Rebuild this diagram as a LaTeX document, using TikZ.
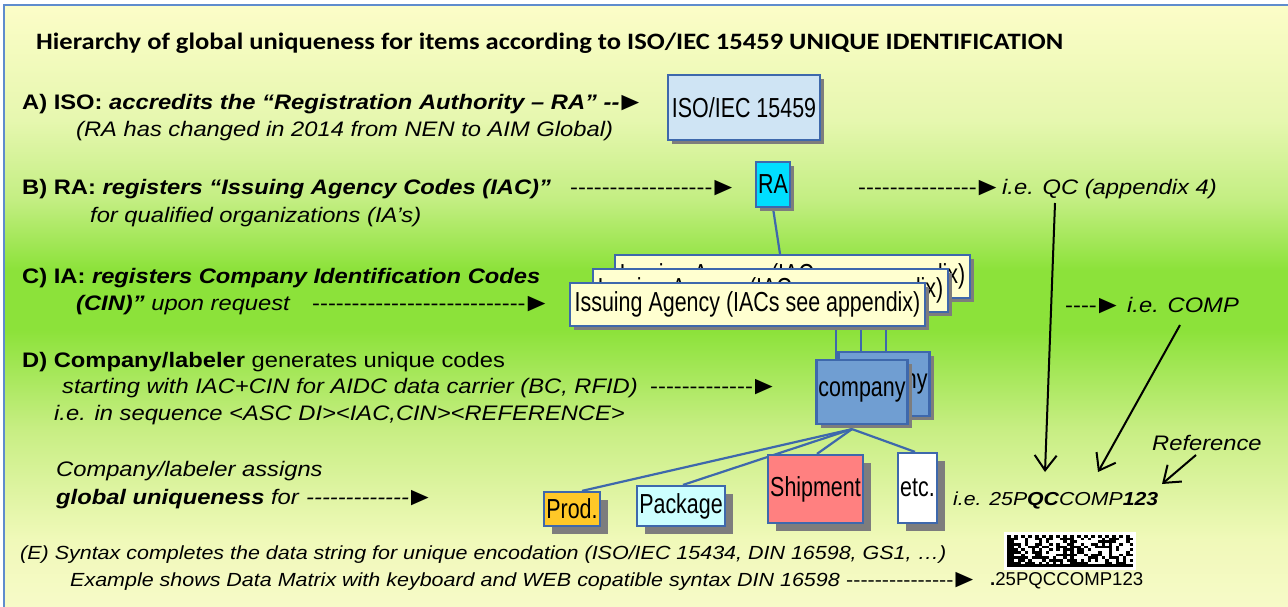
\documentclass[tikz,border=0pt]{standalone}
\usepackage{fontspec}
\usetikzlibrary{shadows,arrows.meta,calc,backgrounds}
\newfontfamily\af{Liberation Sans}[FakeStretch=1.13,Ligatures=TeXOff]
\newfontfamily\boxf{Liberation Sans}[FakeStretch=0.78,Ligatures=TeXOff]
\newfontfamily\plainf{Liberation Sans}[Ligatures=TeXOff]
\newfontfamily\titf{Carlito}[FakeStretch=1.13,Ligatures=TeXOff]
\newcommand\mainf{\af\fontsize{21}{25}\selectfont}
\newcommand\smallf{\af\fontsize{19}{23}\selectfont}
\newcommand\tri{\kern-3.5pt\raisebox{-1pt}{\fontsize{26}{25}\selectfont ►}}
\definecolor{bord}{RGB}{62,104,172}
\definecolor{shadowc}{RGB}{125,125,125}
\definecolor{framec}{RGB}{95,140,205}
\definecolor{isoc}{RGB}{207,228,244}
\definecolor{rac}{RGB}{0,222,255}
\definecolor{iac}{RGB}{255,255,208}
\definecolor{compc}{RGB}{112,158,210}
\definecolor{prodc}{RGB}{255,200,40}
\definecolor{pkgc}{RGB}{204,255,255}
\definecolor{shipc}{RGB}{255,128,128}
\definecolor{bgYa}{RGB}{252,253,200}
\definecolor{bgYb}{RGB}{230,247,175}
\definecolor{bgYc}{RGB}{195,238,130}
\definecolor{bgG}{RGB}{140,226,58}
\definecolor{bgYd}{RGB}{200,238,132}
\definecolor{bgYe}{RGB}{240,249,185}
\definecolor{bgYf}{RGB}{247,250,200}
\pgfdeclareverticalshading{bgsh}{100bp}{color(0bp)=(bgYf); color(25bp)=(bgYf); color(30.6bp)=(bgYe); color(39.7bp)=(bgYd); color(48bp)=(bgG); color(53bp)=(bgG); color(58.8bp)=(bgYc); color(65.4bp)=(bgYb); color(75bp)=(bgYa); color(100bp)=(bgYa)}
\tikzset{
  txt/.style={anchor=base west, inner sep=0pt, font=\mainf},
  stxt/.style={anchor=base west, inner sep=0pt, font=\smallf},
  box/.style={draw=bord, line width=2.2pt, inner sep=0pt, font=\boxf\fontsize{27.5}{30}\selectfont,
    drop shadow={shadow xshift=#1, shadow yshift=-#1, fill=shadowc, opacity=1}},
  box/.default=4pt,
  conn/.style={draw=bord, line width=2.2pt},
  blk/.style={line width=2pt, -{Straight Barb[length=15pt, width=22pt, line width=2pt]}}
}
\begin{document}
\begin{tikzpicture}[x=1pt,y=-1pt]
\useasboundingbox (0,0) rectangle (1288,607);
\begin{pgfonlayer}{background}
\fill[white] (0,0) rectangle (1288,607);
\shade[shading=bgsh] (4,5) rectangle (1288,607);
\draw[framec, line width=1.5pt] (4,5) rectangle (1300,620);
\end{pgfonlayer}

% title
\node[anchor=base west, inner sep=0pt, font=\titf\bfseries\fontsize{23.5}{27}\selectfont] (title) at (36,50)
  {Hierarchy of global uniqueness for items according to ISO/IEC 15459 UNIQUE IDENTIFICATION};

% left texts
\node[txt] (a1) at (22,110) {\bfseries A) ISO: \itshape accredits the “Registration Authority – RA” --\tri};
\node[txt] (a2) at (76,137) {\itshape (RA has changed in 2014 from NEN to AIM Global)};
\node[txt] (b1) at (22,194) {\bfseries B) RA: \itshape registers “Issuing Agency Codes (IAC)”};
\node[txt] (b1d) at (570,194) {------------------\tri};
\node[txt] (b2) at (90,222) {\itshape for qualified organizations (IA’s)};
\node[txt] (bqd) at (858,194) {---------------\tri};
\node[txt] (bq) at (1002,194) {\itshape i.e. QC (appendix 4)};
\node[txt] (c1) at (22,283) {\bfseries C) IA: \itshape registers Company Identification Codes};
\node[txt] (c2) at (76,310) {\bfseries\itshape (CIN)”\mdseries\ upon request};
\node[txt] (c2d) at (312,310) {---------------------------\tri};
\node[txt] (cqd) at (1065,312) {----\tri};
\node[txt] (cq) at (1127,312) {\itshape i.e. COMP};
\node[txt] (d1) at (22,367) {\bfseries D) Company/labeler\mdseries\ generates unique codes};
\node[txt] (d2) at (62,393) {\itshape starting with IAC+CIN for AIDC data carrier (BC, RFID)};
\node[txt] (d2d) at (650,393) {-------------\tri};
\node[txt] (d3) at (54,420) {\itshape i.e. in sequence <ASC DI><IAC,CIN><REFERENCE>};
\node[txt] (e1) at (56,476) {\itshape Company/labeler assigns};
\node[txt] (e2) at (56,504) {\bfseries\itshape global uniqueness\mdseries\ for};
\node[txt] (e2d) at (306,504) {\itshape -------------\tri};
\node[stxt] (f1) at (20,559) {\itshape (E) Syntax completes the data string for unique encodation (ISO/IEC 15434, DIN 16598, GS1, …)};
\node[stxt] (f2) at (70,586) {\itshape Example shows Data Matrix with keyboard and WEB copatible syntax DIN 16598};
\node[stxt] (f2d) at (846,586) {---------------\tri};
\node[anchor=base west, inner sep=0pt, font=\plainf\fontsize{18.6}{22}\selectfont] (bctxt) at (990,585) {\textbf{.}25PQCCOMP123};
\node[txt] (ref) at (1152,450) {\itshape Reference};
\node[anchor=base west, inner sep=0pt, font=\af\fontsize{18.8}{22}\selectfont] (ie) at (953,505)
  {\itshape i.e. 25P\textbf{QC}COMP\textbf{123}};

% boxes
\node[box, fill=isoc, minimum width=152pt, minimum height=65pt] (iso) at (744,107.5) {ISO/IEC 15459};
\node[box, fill=rac, minimum width=34pt, minimum height=45pt] (ra) at (773,184.5) {RA};
\node[box, fill=iac, minimum width=355pt, minimum height=43pt] (ia3) at (792.5,276.5) {Issuing Agency (IACs see appendix)};
\node[box, fill=iac, minimum width=355pt, minimum height=43pt] (ia2) at (770.5,290.5) {Issuing Agency (IACs see appendix)};
\node[box, fill=iac, minimum width=355pt, minimum height=43pt] (ia1) at (747.5,304.5) {Issuing Agency (IACs see appendix)};
\node[box, fill=compc, minimum width=91pt, minimum height=64pt] (c2b) at (884,384) {company};
\node[box, fill=compc, minimum width=91pt, minimum height=64pt] (c1b) at (862,392) {company};
\node[box=8pt, fill=prodc, minimum width=56pt, minimum height=34pt] (prod) at (572,509) {Prod.};
\node[box=8pt, fill=pkgc, minimum width=88pt, minimum height=40pt] (pkg) at (681,506) {Package};
\node[box=8pt, fill=shipc, minimum width=95pt, minimum height=68pt] (ship) at (815.5,489) {Shipment};
\node[box=8pt, fill=white, minimum width=39pt, minimum height=70pt] (etc) at (917.5,488) {etc.};

% connectors
\begin{pgfonlayer}{background}
\draw[conn] (ra.south) -- ([xshift=-12.5pt]ia3.north);
\draw[conn] (836,0 |- ia1.south) -- (836,0 |- c1b.north);
\draw[conn] (861,0 |- ia1.south) -- (861,0 |- c2b.north);
\draw[conn] (886,0 |- ia1.south) -- (886,0 |- c2b.north);
\coordinate (fan) at ([xshift=-10pt,yshift=-4pt]c1b.south);
\draw[conn] (fan) -- ([xshift=10pt]prod.north);
\draw[conn] (fan) -- ([xshift=2pt]pkg.north);
\draw[conn] (fan) -- ([xshift=1.5pt]ship.north);
\draw[conn] (fan) -- ([xshift=-2.5pt]etc.north);
\end{pgfonlayer}

% black arrows
\coordinate (qcS) at (1055,203); \coordinate (qcE) at (1045,472);
\coordinate (cpS) at (1180,325); \coordinate (cpE) at (1098,472);
\coordinate (rfS) at (1196,455); \coordinate (rfE) at (1162,484);
\draw[blk] (qcS) -- (qcE);
\draw[blk] (cpS) -- (cpE);
\draw[blk] (rfS) -- (rfE);

% data matrix
\fill[white] (1004,532) rectangle (1136,570);
\fill[black] (1007,535) rectangle (1133,567);
\foreach \c in {1,3,...,35} \fill[white] ({1007+\c*3.5},535) rectangle ++(3.5,2.6667);
\foreach \r in {2,4,...,10} {
  \fill[white] ({1007+35*3.5},{535+\r*2.6667}) rectangle ++(3.5,2.6667);
  \fill[white] ({1007+17*3.5},{535+\r*2.6667}) rectangle ++(3.5,2.6667);
}
\pgfmathsetseed{12}
\foreach \r in {1,...,10} {
  \foreach \c in {1,...,34} {
    \pgfmathtruncatemacro\w{(rnd>0.52)?1:0}
    \ifnum\c=17 \def\w{0}\fi
    \ifnum\c=18 \def\w{0}\fi
    \ifnum\w=1
      \fill[white] ({1007+\c*3.5},{535+\r*2.6667}) rectangle ++(3.5,2.6667);
    \fi
  }
}
\end{tikzpicture}
\end{document}
